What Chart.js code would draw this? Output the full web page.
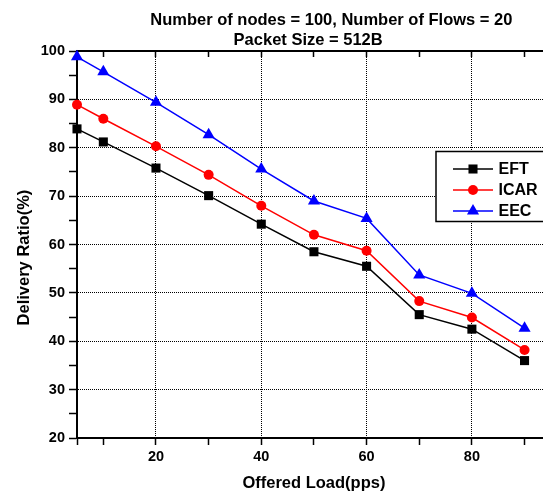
<!DOCTYPE html>
<html>
<head>
<meta charset="utf-8">
<script src="https://cdn.jsdelivr.net/npm/chart.js@4/dist/chart.umd.min.js"></script>
<style>
  html, body { margin: 0; padding: 0; background: #fff; overflow: hidden; }
  #wrap { width: 620px; height: 495px; }
</style>
</head>
<body>
<div id="wrap"><canvas id="myChart" width="620" height="495"></canvas></div>
<script>
// offered load (pps) and delivery ratio (%) per protocol
const loads = [5, 10, 20, 30, 40, 50, 60, 70, 80, 90];
const eft = [83.9, 81.2, 75.8, 70.1, 64.2, 58.5, 55.5, 45.5, 42.5, 36];
const icar = [88.9, 86, 80.3, 74.4, 68, 62, 58.7, 48.3, 44.9, 38.2];
const eec = [98.8, 95.7, 89.4, 82.7, 75.6, 69, 65.4, 53.7, 49.9, 42.7];
const seriesNames = ['EFT', 'ICAR', 'EEC'];
const titleLines = ['Number of nodes = 100, Number of Flows = 20', 'Packet Size = 512B'];
const xTitle = 'Offered Load(pps)';
const yTitle = 'Delivery Ratio(%)';

const FONT = '"Liberation Sans", Arial, sans-serif';
const X_MAX = 106.8;

function pts(values) {
    return values.map(function(v, i) { return {x: loads[i], y: v}; });
}

// legend box drawn inside the plot, upper right
const insideLegend = {
    id: 'insideLegend',
    afterDatasetsDraw(chart) {
        const ctx = chart.ctx;
        const area = chart.chartArea;
        const left = area.left + 359;
        const top = area.top + 100.5;
        ctx.save();
        ctx.fillStyle = '#fff';
        ctx.strokeStyle = '#000';
        ctx.lineWidth = 1.5;
        ctx.fillRect(left, top, 130, 70);
        ctx.strokeRect(left, top, 130, 70);
        chart.data.datasets.forEach(function(ds, i) {
            const y = top + 17.5 + i * 21;
            ctx.strokeStyle = ds.borderColor;
            ctx.lineWidth = 1.5;
            ctx.beginPath();
            ctx.moveTo(left + 17, y);
            ctx.lineTo(left + 57, y);
            ctx.stroke();
            ctx.fillStyle = ds.backgroundColor;
            Chart.helpers.drawPoint(ctx, {pointStyle: ds.pointStyle, radius: ds.pointRadius, borderWidth: 0}, left + 37, y);
            ctx.fillStyle = '#000';
            ctx.font = 'bold 16px ' + FONT;
            ctx.textBaseline = 'middle';
            ctx.fillText(ds.label, left + 62.5, y + 1);
        });
        ctx.restore();
    }
};

// heading and axis captions, placed against the scales
const captions = {
    id: 'captions',
    afterDraw(chart) {
        const ctx = chart.ctx;
        const xs = chart.scales.x;
        const ys = chart.scales.y;
        const area = chart.chartArea;
        ctx.save();
        ctx.fillStyle = '#000';
        ctx.font = 'bold 16.5px ' + FONT;
        ctx.textAlign = 'center';
        ctx.textBaseline = 'alphabetic';
        ctx.fillText(titleLines[0], xs.getPixelForValue(53.3), 25);
        ctx.fillText(titleLines[1], xs.getPixelForValue(48.9), 45);
        ctx.textBaseline = 'middle';
        ctx.fillText(xTitle, xs.getPixelForValue(50), area.bottom + 45);
        ctx.translate(24, ys.getPixelForValue(57.3));
        ctx.rotate(-Math.PI / 2);
        ctx.fillText(yTitle, 0, 0);
        ctx.restore();
    }
};

const ctx = document.getElementById('myChart').getContext('2d');
const chart = new Chart(ctx, {
    type: 'line',
    data: {
        datasets: [{
                label: seriesNames[0],
                data: pts(eft),
                borderColor: '#000000',
                backgroundColor: '#000000',
                pointStyle: 'rect',
                pointRadius: 6.4,
            },
            {
                label: seriesNames[1],
                data: pts(icar),
                borderColor: '#ff0000',
                backgroundColor: '#ff0000',
                pointStyle: 'circle',
                pointRadius: 5,
            },
            {
                label: seriesNames[2],
                data: pts(eec),
                borderColor: '#0000ff',
                backgroundColor: '#0000ff',
                pointStyle: 'triangle',
                pointRadius: 7,
            }
        ]
    },
    options: {
        responsive: false,
        animation: false,
        devicePixelRatio: 1,
        layout: {padding: {top: 50, left: 0, right: 0, bottom: 0}},
        datasets: {
            line: {borderWidth: 1.5, tension: 0, pointBorderWidth: 0, clip: false}
        },
        plugins: {
            legend: {display: false},
            tooltip: {enabled: false},
            title: {display: false}
        },
        scales: {
            x: {
                type: 'linear',
                min: 5,
                max: X_MAX,
                afterFit(scale) { scale.height = 57; },
                border: {display: true, color: '#000', width: 2, dash: [1, 1]},
                grid: {
                    color: function(c) { return c.tick && c.tick.value % 20 === 0 ? '#000' : 'rgba(0,0,0,0)'; },
                    lineWidth: 1,
                    tickColor: '#000',
                    tickWidth: 1.5,
                    tickLength: 7,
                },
                ticks: {
                    stepSize: 10,
                    autoSkip: false,
                    maxRotation: 0,
                    padding: 3,
                    color: '#000',
                    font: {family: FONT, size: 14.5, weight: 'bold'},
                    callback: function(v) { return v % 20 === 0 && v < 100 ? v : ''; }
                }
            },
            x2: {
                type: 'linear',
                position: 'top',
                min: 5,
                max: X_MAX,
                afterFit(scale) { scale.height = 1; },
                border: {display: true, color: '#000', width: 2},
                grid: {drawOnChartArea: false, drawTicks: true, tickLength: -6, tickColor: '#000', tickWidth: 1.5},
                ticks: {stepSize: 10, display: false}
            },
            y: {
                min: 20,
                max: 100,
                afterFit(scale) { scale.width = 77; },
                border: {display: true, color: '#000', width: 2, dash: [1, 1]},
                grid: {
                    color: function(c) { return c.tick && c.tick.value % 10 === 0 ? '#000' : 'rgba(0,0,0,0)'; },
                    lineWidth: 1,
                    tickColor: '#000',
                    tickWidth: 1.5,
                    tickLength: 8,
                },
                ticks: {
                    stepSize: 5,
                    padding: 4,
                    color: '#000',
                    font: {family: FONT, size: 14.5, weight: 'bold'},
                    callback: function(v) { return v % 10 === 0 ? v : ''; }
                }
            }
        }
    },
    plugins: [insideLegend, captions]
});
</script>
</body>
</html>
